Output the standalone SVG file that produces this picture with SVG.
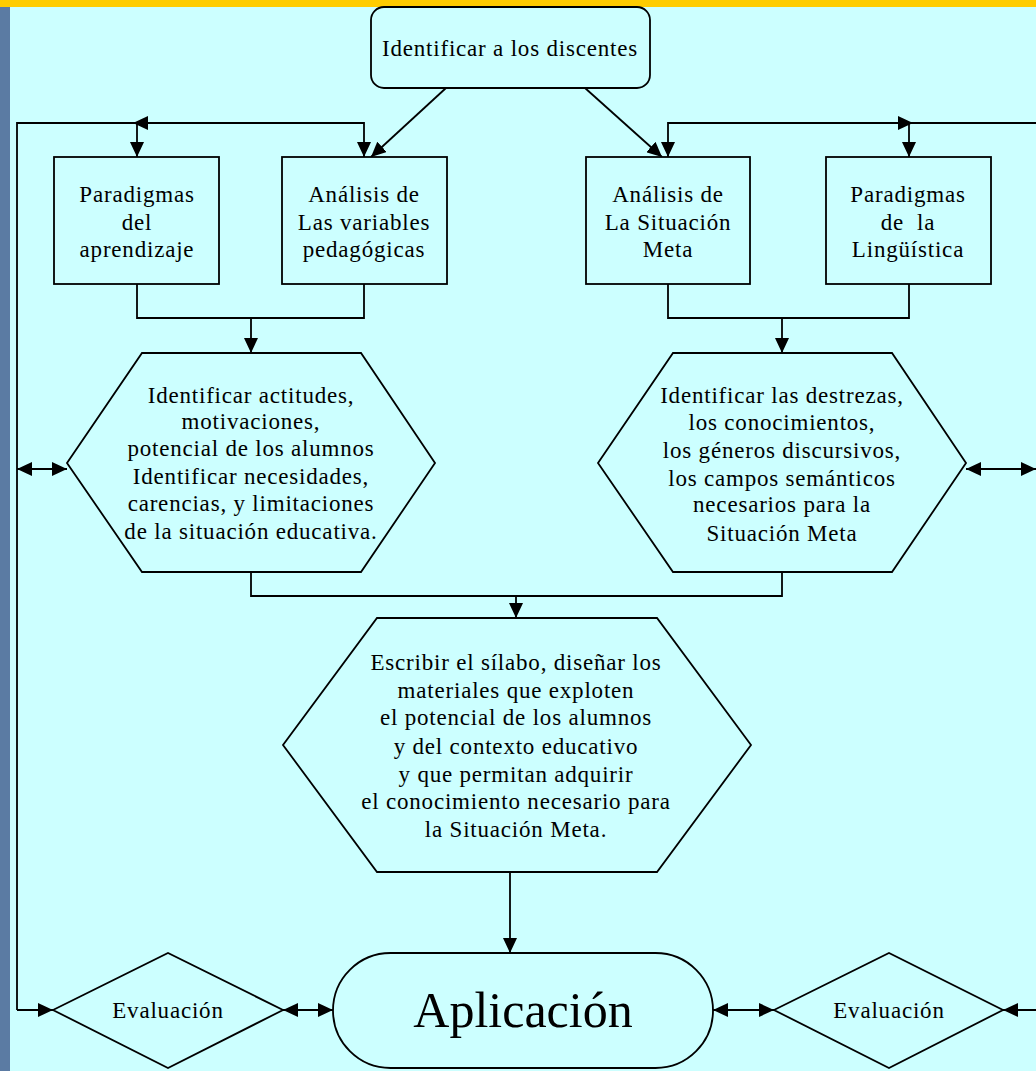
<svg xmlns="http://www.w3.org/2000/svg" width="1036" height="1071" viewBox="0 0 1036 1071">
<style>
.shape{fill:#CCFFFF;stroke:#000;stroke-width:1.8}
.conn path{fill:none;stroke:#000;stroke-width:1.8}
.t{font-family:"Liberation Serif","Times New Roman",serif;font-size:23px;letter-spacing:0.8px;fill:#000;text-anchor:middle}
.big{font-family:"Liberation Serif","Times New Roman",serif;font-size:50px;fill:#000;text-anchor:middle}
</style>
<defs>
<marker id="ah" markerUnits="userSpaceOnUse" markerWidth="16" markerHeight="14" refX="15" refY="7" orient="auto-start-reverse">
<path d="M0,0 L15,7 L0,14 z" fill="#000"/>
</marker>
</defs>
<rect x="0" y="0" width="1036" height="1071" fill="#CCFFFF"/>
<rect x="0" y="0" width="1036" height="7" fill="#FFCC00"/>
<rect x="0" y="7" width="10" height="1064" fill="#5B7BA3"/>

<g class="conn">
<path d="M17,1010 L17,123 L364,123 L364,157" marker-end="url(#ah)"/>
<path d="M17,1010 L53,1010" marker-end="url(#ah)"/>
<path d="M137,123 L137,157" marker-end="url(#ah)"/>
<path d="M152,123 L133,123" marker-end="url(#ah)"/>
<path d="M17,469 L67,469" marker-start="url(#ah)" marker-end="url(#ah)"/>
<path d="M446,88 L371,157" marker-end="url(#ah)"/>
<path d="M585,88 L662,157" marker-end="url(#ah)"/>
<path d="M1036,123 L668,123 L668,157" marker-end="url(#ah)"/>
<path d="M909,123 L909,157" marker-end="url(#ah)"/>
<path d="M894,123 L913,123" marker-end="url(#ah)"/>
<path d="M966,469 L1036,469" marker-start="url(#ah)" marker-end="url(#ah)"/>
<path d="M137,284 L137,318 L364,318 L364,284"/>
<path d="M251,318 L251,353" marker-end="url(#ah)"/>
<path d="M668,284 L668,318 L909,318 L909,284"/>
<path d="M782,318 L782,353" marker-end="url(#ah)"/>
<path d="M251,572 L251,596 L782,596 L782,572"/>
<path d="M516,596 L516,618" marker-end="url(#ah)"/>
<path d="M510,872 L510,953" marker-end="url(#ah)"/>
<path d="M283,1010 L333,1010" marker-start="url(#ah)" marker-end="url(#ah)"/>
<path d="M713,1010 L774,1010" marker-start="url(#ah)" marker-end="url(#ah)"/>
<path d="M1036,1010 L1003,1010" marker-end="url(#ah)"/>
</g>

<g id="identificar">
<rect class="shape" x="371" y="7" width="279" height="81" rx="13"/>
<text class="t" x="510" y="56">Identificar a los discentes</text>
</g>

<g id="paradigmas-aprendizaje">
<rect class="shape" x="54" y="157" width="165" height="127"/>
<text class="t" x="137" y="202">Paradigmas</text>
<text class="t" x="137" y="230">del</text>
<text class="t" x="137" y="257">aprendizaje</text>
</g>

<g id="analisis-variables">
<rect class="shape" x="282" y="157" width="165" height="127"/>
<text class="t" x="364" y="202">Análisis de</text>
<text class="t" x="364" y="230">Las variables</text>
<text class="t" x="364" y="257">pedagógicas</text>
</g>

<g id="analisis-situacion">
<rect class="shape" x="586" y="157" width="164" height="127"/>
<text class="t" x="668" y="202">Análisis de</text>
<text class="t" x="668" y="230">La Situación</text>
<text class="t" x="668" y="257">Meta</text>
</g>

<g id="paradigmas-linguistica">
<rect class="shape" x="826" y="157" width="165" height="127"/>
<text class="t" x="908" y="202">Paradigmas</text>
<text class="t" x="908" y="230">de&#160; la</text>
<text class="t" x="908" y="257">Lingüística</text>
</g>

<g id="hex-izq">
<polygon class="shape" points="142,353 361,353 435,463 361,572 142,572 67,463"/>
<text class="t" x="251" y="403">Identificar actitudes,</text>
<text class="t" x="251" y="429">motivaciones,</text>
<text class="t" x="251" y="456">potencial de los alumnos</text>
<text class="t" x="251" y="484">Identificar necesidades,</text>
<text class="t" x="251" y="511">carencias, y limitaciones</text>
<text class="t" x="251" y="539">de la situación educativa.</text>
</g>

<g id="hex-der">
<polygon class="shape" points="673,353 892,353 966,463 892,572 673,572 598,463"/>
<text class="t" x="782" y="403">Identificar las destrezas,</text>
<text class="t" x="782" y="430">los conocimientos,</text>
<text class="t" x="782" y="458">los géneros discursivos,</text>
<text class="t" x="782" y="486">los campos semánticos</text>
<text class="t" x="782" y="512">necesarios para la</text>
<text class="t" x="782" y="541">Situación Meta</text>
</g>

<g id="hex-silabo">
<polygon class="shape" points="377,618 657,618 751,745 657,872 377,872 283,745"/>
<text class="t" x="516" y="670">Escribir el sílabo, diseñar los</text>
<text class="t" x="516" y="698">materiales que exploten</text>
<text class="t" x="516" y="725">el potencial de los alumnos</text>
<text class="t" x="516" y="754">y del contexto educativo</text>
<text class="t" x="516" y="782">y que permitan adquirir</text>
<text class="t" x="516" y="809">el conocimiento necesario para</text>
<text class="t" x="516" y="837">la Situación Meta.</text>
</g>

<g id="aplicacion">
<rect class="shape" x="333" y="953" width="380" height="115" rx="57.5"/>
<text class="big" x="523" y="1027">Aplicación</text>
</g>

<g id="evaluacion-izq">
<polygon class="shape" points="53,1010 168,953 283,1010 168,1068"/>
<text class="t" x="168" y="1018">Evaluación</text>
</g>

<g id="evaluacion-der">
<polygon class="shape" points="774,1010 889,953 1003,1010 889,1068"/>
<text class="t" x="889" y="1018">Evaluación</text>
</g>
</svg>
